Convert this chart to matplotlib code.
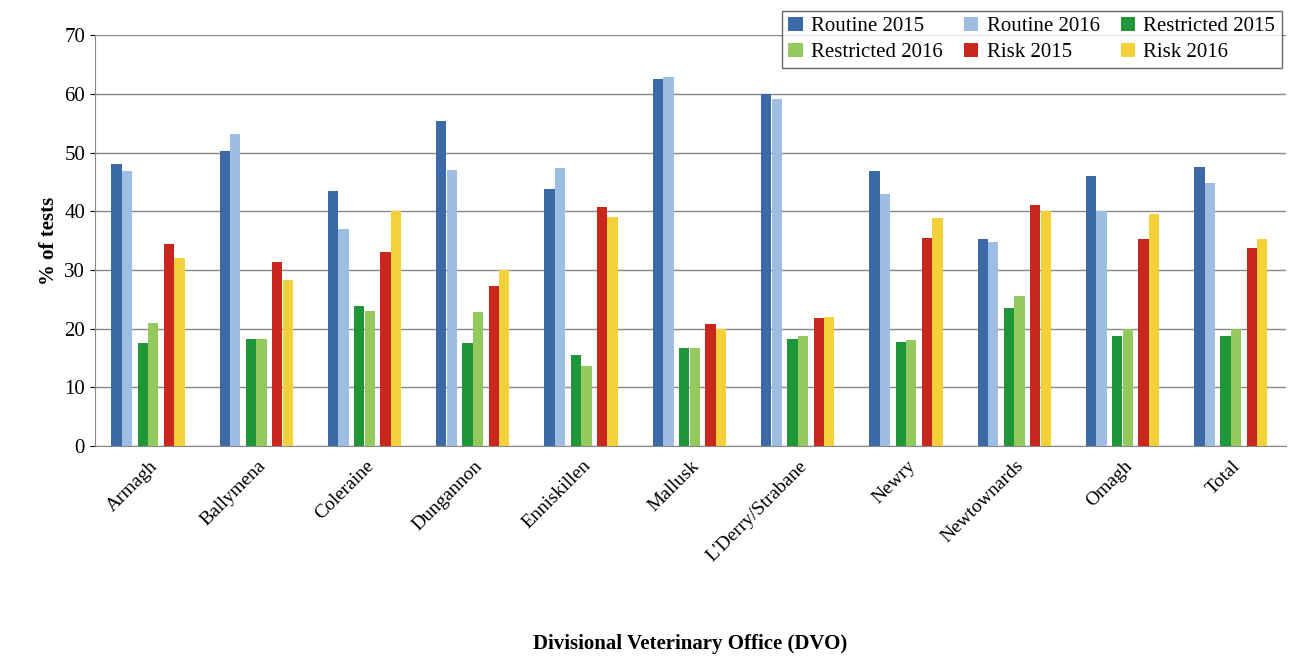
import numpy as np
import matplotlib.pyplot as plt

plt.rcParams["font.family"] = ["Liberation Serif", "DejaVu Serif"]

offices = ["Armagh", "Ballymena", "Coleraine", "Dungannon", "Enniskillen", "Mallusk",
           "L'Derry/Strabane", "Newry", "Newtownards", "Omagh", "Total"]
routine_2015 = [48.0, 50.3, 43.5, 55.3, 43.8, 62.5, 60.0, 46.8, 35.3, 46.0, 47.5]
routine_2016 = [46.8, 53.2, 37.0, 47.0, 47.3, 62.8, 59.2, 43.0, 34.7, 40.0, 44.8]
restricted_2015 = [17.5, 18.2, 23.8, 17.5, 15.5, 16.8, 18.2, 17.8, 23.5, 18.7, 18.7]
restricted_2016 = [21.0, 18.3, 23.0, 22.8, 13.7, 16.8, 18.7, 18.0, 25.5, 20.0, 20.0]
risk_2015 = [34.5, 31.3, 33.0, 27.3, 40.8, 20.8, 21.8, 35.5, 41.0, 35.3, 33.8]
risk_2016 = [32.0, 28.3, 40.0, 30.0, 39.0, 20.0, 22.0, 38.8, 40.0, 39.5, 35.2]

series = [
    ("Routine 2015", routine_2015, "#3b6aa6"),
    ("Routine 2016", routine_2016, "#9dbde3"),
    ("Restricted 2015", restricted_2015, "#1f9638"),
    ("Restricted 2016", restricted_2016, "#94c95e"),
    ("Risk 2015", risk_2015, "#c9261d"),
    ("Risk 2016", risk_2016, "#f4d13a"),
]

fig, ax = plt.subplots(figsize=(12.99, 6.62), dpi=100)
fig.subplots_adjust(left=0.073, right=0.99, top=0.947, bottom=0.326)

x = np.arange(len(offices))
width = 0.095
slots = [0, 1, 2.5, 3.5, 5, 6]
handles = []
for (label, vals, color), s in zip(series, slots):
    h = ax.bar(x - 0.3 + s * width * 1.02, vals, width, color=color, label=label, zorder=3)
    handles.append(h)

ax.set_xlim(-0.5, len(offices) - 0.5)
ax.set_ylim(0, 70)
ax.set_yticks(range(0, 71, 10))
ax.grid(True, axis="y", color="#888888", linewidth=1, zorder=0)
ax.set_xticks(x)
ax.set_xticklabels(offices, rotation=45, ha="right", rotation_mode="anchor", fontsize=14)
ax.tick_params(axis="y", labelsize=15)
ax.tick_params(axis="x", length=0, pad=8)
for sp in ["top", "right"]:
    ax.spines[sp].set_visible(False)
ax.spines["left"].set_color("#888888")
ax.spines["bottom"].set_color("#888888")
ax.set_ylabel("% of tests", fontsize=15, fontweight="bold")
ax.set_xlabel("Divisional Veterinary Office (DVO)", fontsize=15, fontweight="bold", labelpad=50)

# row-major legend order: matplotlib fills columns first
order = [0, 3, 1, 4, 2, 5]
leg = ax.legend([handles[i] for i in order], [series[i][0] for i in order],
                ncol=3, loc="upper right", bbox_to_anchor=(1.005, 1.085), fontsize=15,
                frameon=True, fancybox=False, edgecolor="#444444", handlelength=0.7,
                columnspacing=1.0, handletextpad=0.4, borderpad=0.3, labelspacing=0.3)
leg.get_frame().set_linewidth(1.0)

fig.savefig("out.png")
